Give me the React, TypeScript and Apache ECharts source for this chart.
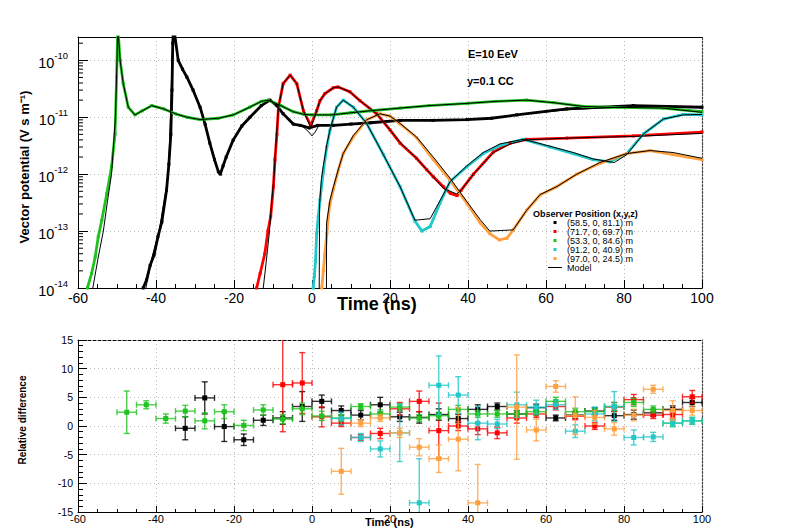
import React, { useEffect, useRef } from 'react';
import * as echarts from 'echarts';

const FONT = '"Liberation Sans", Arial, Helvetica, sans-serif';

const seriesNames = ['(58.5, 0, 81.1) m', '(71.7, 0, 69.7) m', '(53.3, 0, 84.6) m', '(91.2, 0, 40.9) m', '(97.0, 0, 24.5) m'];
const seriesColors = ['#000000', '#ff0000', '#1fc21f', '#22c8c8', '#ffa040'];

// ---- top panel: simulated vector potential [t (ns), value] ----
const blackData = [[-43.3,1e-14],[-42.4,1.4e-14],[-41.5,2.5e-14],[-40.5,3.8e-14],[-39.5,8e-14],[-38.5,1.45e-13],[-37.3,5.2e-13],[-36.7,1.5e-12],[-36.2,5e-12],[-35.9,3e-11],[-35.7,2e-10],[-35.5,4e-10],[-34.3,1e-10],[-33.2,7e-11],[-32.1,5.1e-11],[-30.5,3e-11],[-28.7,1.5e-11],[-27.4,7.5e-12],[-26.2,3.5e-12],[-25,1.8e-12],[-24,1.1e-12],[-23.5,1.0e-12],[-22.8,1.4e-12],[-22,2e-12],[-20.2,4e-12],[-18,7e-12],[-15.9,1.0e-11],[-13,1.6e-11],[-10.8,2.0e-11],[-9,1.6e-11],[-7.4,1.15e-11],[-4.8,7.6e-12],[-3,7.2e-12],[-0.7,6.5e-12],[1.5,7.2e-12],[5.5,7.2e-12],[10,7.6e-12],[15,8.0e-12],[22.6,8.8e-12],[31,8.8e-12],[39.7,9.1e-12],[46,9.6e-12],[52.5,1.1e-11],[65.3,1.4e-11],[82.4,1.6e-11],[100,1.5e-11]];
const redData = [[-14.2,1e-14],[-13.3,1.8e-14],[-12.1,4e-14],[-11.3,1e-13],[-10.6,1.8e-13],[-9.9,6e-13],[-9.5,1.8e-12],[-9.0,5e-12],[-8.6,1.5e-11],[-7.4,3.9e-11],[-5.6,5.5e-11],[-3.9,3.9e-11],[-2.2,1.3e-11],[-0.3,7.2e-12],[1.2,1.3e-11],[2.05,1.95e-11],[3.3,2.6e-11],[5.5,3.3e-11],[6.7,3.4e-11],[9.7,2.8e-11],[12.3,1.95e-11],[16.6,1.15e-11],[20,6e-12],[22.6,3.5e-12],[26.8,1.9e-12],[29.4,1.2e-12],[31.1,9e-13],[33.7,6e-13],[35.5,4.6e-13],[37.2,4.2e-13],[38.2,5.2e-13],[41.4,1.0e-12],[46.5,2.45e-12],[50.8,3.5e-12],[55,4.1e-12],[65.3,4.3e-12],[82.4,4.7e-12],[100,5.5e-12]];
const greenData = [[-57.6,1e-14],[-56.5,1.8e-14],[-55.6,3.5e-14],[-54.8,8e-14],[-53.9,1.55e-13],[-52.6,4.6e-13],[-51.4,1.35e-12],[-50.5,5.1e-12],[-50.1,5e-11],[-49.8,4e-10],[-49.2,1e-10],[-48.4,3.9e-11],[-47.1,1.5e-11],[-45.4,1.1e-11],[-43.5,1.3e-11],[-41.1,1.6e-11],[-38,1.4e-11],[-35,1.15e-11],[-32,1.0e-11],[-28.7,9.1e-12],[-24,9.6e-12],[-20.2,1.1e-11],[-16,1.5e-11],[-13,1.9e-11],[-11.2,2.0e-11],[-8,1.6e-11],[-4.8,1.25e-11],[-2,1.12e-11],[0,1.1e-11],[5,1.1e-11],[10,1.2e-11],[15,1.3e-11],[22.6,1.45e-11],[30,1.6e-11],[39.7,1.75e-11],[47,1.9e-11],[55,2.0e-11],[62,1.8e-11],[69.5,1.55e-11],[76,1.5e-11],[82.3,1.48e-11],[90,1.45e-11],[100,1.25e-11]];
const cyanData = [[0.3,1e-14],[0.6,1.6e-14],[0.9,3e-14],[1.2,9e-14],[1.6,1.8e-13],[2.05,3.5e-13],[2.9,1.1e-12],[3.8,3e-12],[4.6,5.9e-12],[6.3,1.5e-11],[8,2.0e-11],[10.6,1.5e-11],[14,7.8e-12],[18.3,2.2e-12],[22.6,6e-13],[26.4,1.5e-13],[28.2,1.0e-13],[30.3,1.2e-13],[32.8,3.1e-13],[35.4,7.4e-13],[39.7,1.35e-12],[43.9,2.3e-12],[48.2,3.2e-12],[54.2,4.1e-12],[61,3.0e-12],[67,2.3e-12],[72.1,1.8e-12],[76.4,1.65e-12],[80.7,2.3e-12],[85,5.1e-12],[90.1,9.3e-12],[95.2,1.12e-11],[100,1.1e-11]];
const orangeData = [[2.5,1e-14],[2.9,2e-14],[3.3,4e-14],[3.8,9e-14],[4.2,1.8e-13],[4.6,3e-13],[5.5,5.5e-13],[6.8,1.2e-12],[8,2.3e-12],[10.6,4.5e-12],[14,9e-12],[17.4,1.15e-11],[20,1.05e-11],[22.6,7.6e-12],[26.8,4.4e-12],[31.1,1.8e-12],[35.4,7.8e-13],[39.7,3.1e-13],[43.1,1.4e-13],[45.6,9e-14],[48,7e-14],[50,7.5e-14],[51.6,1.05e-13],[55,2.3e-13],[58.5,4.3e-13],[62.7,6.0e-13],[67.9,1.0e-12],[73.8,1.55e-12],[80.7,2.3e-12],[86.7,2.6e-12],[92.6,2.2e-12],[100,1.8e-12]];

// ---- top panel: model curves ----
const blackModel = [[-42.6,1e-14],[-41,3.5e-14],[-39.2,1e-13],[-37.9,3.5e-13],[-36.8,1e-12],[-36.3,1e-11],[-35.9,1e-10],[-35.6,4e-10],[-34.3,1e-10],[-32.1,5.1e-11],[-28.7,1.5e-11],[-26.2,3.5e-12],[-24,1.1e-12],[-23.3,1.1e-12],[-22,2e-12],[-20.2,4e-12],[-18,7e-12],[-15.9,1.05e-11],[-13,1.6e-11],[-10.8,2e-11],[-9,1.6e-11],[-7.4,1.15e-11],[-4.8,7.6e-12],[-2.5,7e-12],[-0.8,5.5e-12],[0,4.7e-12],[0.8,5.5e-12],[1.8,7.2e-12],[5.5,7.2e-12],[10,7.6e-12],[15,8.0e-12],[22.6,8.8e-12],[31,8.8e-12],[39.7,9.1e-12],[46,9.6e-12],[52.5,1.1e-11],[65.3,1.35e-11],[82.4,1.55e-11],[100,1.5e-11]];
const redModel = [[-12.5,1e-14],[-11.6,3.5e-14],[-10.9,1e-13],[-10.3,3.5e-13],[-9.7,1e-12],[-9.1,5e-12],[-8.6,1.5e-11],[-7.4,3.9e-11],[-5.6,5.5e-11],[-3.9,3.9e-11],[-2.2,1.3e-11],[-0.3,6.5e-12],[1.2,1.3e-11],[2.05,1.95e-11],[3.3,2.6e-11],[5.5,3.3e-11],[6.7,3.4e-11],[9.7,2.8e-11],[12.3,1.95e-11],[16.6,1.15e-11],[20,6e-12],[22.6,3.6e-12],[26.8,1.9e-12],[29.4,1.2e-12],[31.1,9e-13],[33.7,5.6e-13],[37.1,4.5e-13],[38.2,5.2e-13],[41.4,1.0e-12],[46.5,2.4e-12],[50.8,3.4e-12],[55,4.0e-12],[65.3,4.3e-12],[82.4,4.6e-12],[100,5.2e-12]];
const greenModel = [[-56.2,1e-14],[-54.8,3.5e-14],[-53.5,1e-13],[-52.4,3.5e-13],[-51.4,1e-12],[-50.4,1e-11],[-50,1e-10],[-49.8,4e-10],[-49.2,1e-10],[-48.4,3.9e-11],[-47.1,1.5e-11],[-45.4,1.1e-11],[-43.5,1.3e-11],[-41.1,1.6e-11],[-38,1.4e-11],[-35,1.15e-11],[-32,1.0e-11],[-28.7,9.1e-12],[-24,9.6e-12],[-20.2,1.1e-11],[-16,1.5e-11],[-13,1.9e-11],[-11.2,2.0e-11],[-8,1.6e-11],[-4.8,1.25e-11],[-2,1.12e-11],[0,1.1e-11],[5,1.1e-11],[10,1.2e-11],[15,1.3e-11],[22.6,1.45e-11],[30,1.6e-11],[39.7,1.75e-11],[47,1.9e-11],[55,2.0e-11],[62,1.8e-11],[69.5,1.55e-11],[76,1.5e-11],[82.3,1.48e-11],[90,1.45e-11],[100,1.22e-11]];
const cyanModel = [[1.85,1e-14],[1.95,3e-13],[2.4,8e-13],[2.9,1.4e-12],[3.8,3.3e-12],[4.6,6e-12],[6.3,1.5e-11],[8,2.0e-11],[10.6,1.5e-11],[14,7.8e-12],[18.3,2.2e-12],[22.6,6e-13],[26.4,1.55e-13],[30.3,1.65e-13],[32.8,3.4e-13],[35.4,7.4e-13],[39.7,1.4e-12],[43.9,2.4e-12],[48.2,3.4e-12],[54.2,4.1e-12],[61,3.1e-12],[67,2.4e-12],[72.1,1.85e-12],[77.5,1.6e-12],[80.7,2.2e-12],[85,5.1e-12],[90.1,9.3e-12],[95.2,1.1e-11],[100,1.12e-11]];
const orangeModel = [[3.7,1e-14],[3.75,1.4e-13],[4.6,3.5e-13],[5.5,6e-13],[6.8,1.25e-12],[8,2.3e-12],[10.6,4.8e-12],[14,9e-12],[17.4,1.15e-11],[20,1.05e-11],[22.6,7.8e-12],[26.8,4.5e-12],[31.1,2.0e-12],[35.4,8.5e-13],[39.7,3.3e-13],[43.1,1.6e-13],[45.6,1.0e-13],[51.6,1.05e-13],[55,2.3e-13],[58.5,4.4e-13],[62.7,6.0e-13],[67.9,1.0e-12],[73.8,1.6e-12],[80.7,2.3e-12],[86.7,2.6e-12],[92.6,2.4e-12],[100,1.9e-12]];

// ---- bottom panel: relative difference [t centre, value, error] ----
const blackDiff = [[-32.5,-0.4,2.0],[-27.5,4.9,2.8],[-22.5,-0.1,2.6],[-17.5,-2.4,1.0],[-12.5,1.0,0.9],[-7.5,1.4,1.1],[-2.5,3.4,2.6],[2.5,4.3,1.1],[7.5,2.7,0.8],[12.5,1.9,0.8],[17.5,3.7,1.3],[22.5,1.6,0.8],[27.5,1.5,1.0],[32.5,2.0,1.0],[37.5,1.3,0.7],[42.5,2.9,0.8],[47.5,3.4,0.6],[52.5,2.1,0.6],[57.5,3.2,0.6],[62.5,1.4,0.5],[67.5,1.9,0.6],[72.5,2.6,0.6],[77.5,1.8,0.8],[82.5,2.0,0.8],[87.5,2.3,0.6],[92.5,2.9,0.6],[97.5,4.1,0.7]];
const redDiff = [[-7.5,7.2,8.2],[-2.5,7.5,5.3],[2.5,1.6,1.75],[7.5,0.5,0.6],[12.5,-2.0,0.5],[17.5,-1.3,0.9],[22.5,3.0,1.1],[27.5,4.3,1.8],[32.5,-0.8,4.8],[37.5,0.0,0.8],[42.5,-0.5,1.0],[47.5,-1.2,1.0],[52.5,1.4,0.9],[57.5,2.1,0.6],[62.5,3.4,0.6],[67.5,1.7,0.6],[72.5,0.0,0.6],[77.5,3.3,0.8],[82.5,4.6,0.9],[87.5,1.9,0.6],[92.5,2.0,0.6],[97.5,5.1,1.1]];
const greenDiff = [[-47.5,2.4,3.7],[-42.5,3.7,0.7],[-37.5,1.3,0.8],[-32.5,2.6,1.0],[-27.5,0.9,1.4],[-22.5,2.5,1.2],[-17.5,0.1,0.9],[-12.5,2.8,0.9],[-7.5,1.2,0.8],[-2.5,3.0,1.0],[2.5,1.75,0.8],[7.5,1.4,0.6],[12.5,3.4,0.5],[17.5,2.1,0.7],[22.5,3.3,0.6],[27.5,1.4,0.6],[32.5,1.8,0.6],[37.5,2.9,0.7],[42.5,2.1,0.6],[47.5,2.1,0.6],[52.5,2.1,0.6],[57.5,2.5,0.6],[62.5,4.3,0.7],[67.5,2.5,0.6],[72.5,2.5,0.6],[77.5,3.4,0.7],[82.5,4.1,0.7],[87.5,2.9,0.6],[92.5,0.5,0.6],[97.5,0.9,0.6]];
const cyanDiff = [[7.5,1.3,1.1],[12.5,-2.0,0.7],[17.5,-4.0,1.4],[22.5,-1.2,5.0],[27.5,-13.4,7.7],[32.5,7.1,5.1],[37.5,5.4,3.2],[42.5,0.5,2.9],[47.5,0.35,0.8],[52.5,3.7,2.2],[57.5,3.3,1.2],[62.5,3.7,0.8],[67.5,-0.9,1.1],[72.5,2.1,1.2],[77.5,3.4,2.6],[82.5,-2.0,1.3],[87.5,-1.9,0.8],[92.5,0.5,0.6],[97.5,0.9,0.6]];
const orangeDiff = [[7.5,-7.9,4.0],[12.5,0.5,0.6],[17.5,1.4,0.6],[22.5,-1.2,0.8],[27.5,-3.7,1.5],[32.5,-5.7,2.4],[37.5,-2.3,5.5],[42.5,-13.4,6.7],[52.5,3.3,9.1],[57.5,-0.7,1.9],[62.5,6.9,1.0],[67.5,1.8,3.3],[72.5,1.5,1.2],[77.5,-0.5,1.1],[82.5,1.9,1.0],[87.5,6.4,0.7],[92.5,2.7,1.7],[97.5,2.7,0.8]];

const timeTicks = { min: -60, max: 100, interval: 20 };
const logDecades = [-14, -13, -12, -11, -10];
const logMinorMultipliers = [2, 3, 4, 5, 6, 7, 8, 9];
const topYMax = 2.57e-10;
const diffRange = { min: -15, max: 15, interval: 5 };
const binHalfWidth = 2.5;

const topData = [blackData, redData, greenData, cyanData, orangeData];
const topModels = [blackModel, redModel, greenModel, cyanModel, orangeModel];
const diffData = [blackDiff, redDiff, greenDiff, cyanDiff, orangeDiff];

const gridColor = '#b8b8b8';

function errRender(color: string) {
  return (params: any, api: any) => {
    const t = api.value(0), v = api.value(1), e = api.value(2);
    const cs = params.coordSys;
    const top = cs.y, bot = cs.y + cs.height;
    const c = api.coord([t, v]);
    const cx = c[0], cy = c[1];
    const xl = api.coord([t - binHalfWidth, v])[0];
    const xr = api.coord([t + binHalfWidth, v])[0];
    const yh = api.coord([t, v + e])[1];
    const yl = api.coord([t, v - e])[1];
    const st = { stroke: color, lineWidth: 1.4, opacity: 0.8 };
    const ch: any[] = [];
    if (cy >= top && cy <= bot) {
      ch.push({ type: 'line', shape: { x1: xl, y1: cy, x2: xr, y2: cy }, style: st });
      ch.push({ type: 'line', shape: { x1: xl, y1: cy - 3, x2: xl, y2: cy + 3 }, style: st });
      ch.push({ type: 'line', shape: { x1: xr, y1: cy - 3, x2: xr, y2: cy + 3 }, style: st });
    }
    ch.push({ type: 'line', shape: { x1: cx, y1: Math.max(top, yh), x2: cx, y2: Math.min(bot, yl) }, style: st });
    if (yh >= top) ch.push({ type: 'line', shape: { x1: cx - 3, y1: yh, x2: cx + 3, y2: yh }, style: st });
    if (yl <= bot) ch.push({ type: 'line', shape: { x1: cx - 3, y1: yl, x2: cx + 3, y2: yl }, style: st });
    if (cy >= top - 2 && cy <= bot + 2) {
      ch.push({ type: 'rect', shape: { x: cx - 2.5, y: cy - 2.5, width: 5, height: 5 }, style: { fill: color } });
    }
    return { type: 'group', children: ch };
  };
}

export default function App() {
  const ref = useRef<HTMLDivElement>(null);
  useEffect(() => {
    document.body.style.margin = '0';
    const chart = echarts.init(ref.current!, undefined, { renderer: 'svg' });

    const minorVals: number[][] = [];
    logDecades.forEach((d) => logMinorMultipliers.forEach((m) => {
      const v = m * Math.pow(10, d);
      if (v <= topYMax) minorVals.push([timeTicks.min, v]);
    }));

    const series: any[] = [];
    topData.forEach((d, i) => {
      series.push({
        name: seriesNames[i], type: 'line', xAxisIndex: 0, yAxisIndex: 0, data: d,
        symbol: 'rect', symbolSize: 3, showSymbol: true, showAllSymbol: true,
        lineStyle: { color: seriesColors[i], width: 2.8 }, itemStyle: { color: seriesColors[i] },
        z: 2, clip: true, silent: true,
      });
    });
    topModels.forEach((d) => {
      series.push({
        name: 'Model', type: 'line', xAxisIndex: 0, yAxisIndex: 0, data: d,
        symbol: 'none', lineStyle: { color: '#000', width: 1 }, itemStyle: { color: '#000' },
        z: 3, clip: true, silent: true,
      });
    });
    series.push({
      type: 'custom', xAxisIndex: 0, yAxisIndex: 0, data: minorVals, silent: true, z: 4,
      renderItem: (params: any, api: any) => {
        const p = api.coord([api.value(0), api.value(1)]);
        return { type: 'line', shape: { x1: p[0], y1: p[1], x2: p[0] + 5, y2: p[1] }, style: { stroke: '#000', lineWidth: 1 } };
      },
    });
    diffData.forEach((d, i) => {
      series.push({
        name: seriesNames[i], type: 'custom', xAxisIndex: 1, yAxisIndex: 1, data: d,
        renderItem: errRender(seriesColors[i]), itemStyle: { color: seriesColors[i] }, silent: true, z: 2 + i,
      });
    });

    const labelStyle = { color: '#000', fontFamily: FONT };

    const option: any = {
      animation: false,
      backgroundColor: '#fff',
      textStyle: { fontFamily: FONT },
      grid: [
        { left: 78, top: 37, width: 624, height: 251, outerBoundsMode: 'none' },
        { left: 78, top: 340, width: 624, height: 172, outerBoundsMode: 'none' },
      ],
      xAxis: [
        {
          type: 'value', gridIndex: 0, ...timeTicks,
          axisLine: { show: true, onZero: false, lineStyle: { color: '#000', width: 1 } },
          axisTick: { show: true, inside: true, length: 8, lineStyle: { color: '#000' } },
          minorTick: { show: true, splitNumber: 4, length: 4, lineStyle: { color: '#000' } },
          axisLabel: { ...labelStyle, fontSize: 14, margin: 3 },
          splitLine: { show: true, lineStyle: { color: gridColor, type: [1, 3] } },
        },
        {
          type: 'value', gridIndex: 1, ...timeTicks,
          axisLine: { show: true, onZero: false, lineStyle: { color: '#000', width: 1 } },
          axisTick: { show: true, inside: true, length: 6, lineStyle: { color: '#000' } },
          minorTick: { show: true, splitNumber: 4, length: 3, lineStyle: { color: '#000' } },
          axisLabel: { ...labelStyle, fontSize: 11, margin: 1 },
          splitLine: { show: true, lineStyle: { color: gridColor, type: [1, 3] } },
        },
        {
          type: 'value', gridIndex: 0, position: 'top', ...timeTicks,
          axisLine: { show: true, onZero: false, lineStyle: { color: '#000', width: 1 } },
          axisTick: { show: false }, axisLabel: { show: false }, splitLine: { show: false },
        },
        {
          type: 'value', gridIndex: 1, position: 'top', ...timeTicks,
          axisLine: { show: true, onZero: false, lineStyle: { color: '#000', width: 1, type: [3, 2] } },
          axisTick: { show: false }, axisLabel: { show: false }, splitLine: { show: false },
        },
      ],
      yAxis: [
        {
          type: 'log', logBase: 10, gridIndex: 0, min: 1e-14, max: topYMax,
          axisLine: { show: true, onZero: false, lineStyle: { color: '#000', width: 1 } },
          axisTick: { show: true, inside: true, length: 10, lineStyle: { color: '#000' } },
          axisLabel: {
            ...labelStyle, margin: 10, showMaxLabel: false,
            formatter: (v: number) => `{b|10}{s|${Math.round(Math.log10(v))}}`,
            rich: {
              b: { fontSize: 14.5, fontFamily: FONT, color: '#000', lineHeight: 20, verticalAlign: 'bottom' },
              s: { fontSize: 9.5, fontFamily: FONT, color: '#000', lineHeight: 10, verticalAlign: 'top' },
            },
          },
          splitLine: { show: true, lineStyle: { color: gridColor, type: [1, 3] } },
        },
        {
          type: 'value', gridIndex: 1, ...diffRange,
          axisLine: { show: true, onZero: false, lineStyle: { color: '#000', width: 1 } },
          axisTick: { show: true, inside: true, length: 9, lineStyle: { color: '#000' } },
          minorTick: { show: true, splitNumber: 5, length: 5, lineStyle: { color: '#000' } },
          axisLabel: { ...labelStyle, fontSize: 10.5, margin: 5 },
          splitLine: { show: true, lineStyle: { color: gridColor, type: [1, 3] } },
        },
        {
          type: 'value', gridIndex: 0, position: 'right', min: 0, max: 1,
          axisLine: { show: true, onZero: false, lineStyle: { color: '#444', width: 1.2, type: [2, 1.5] } },
          axisTick: { show: false }, axisLabel: { show: false }, splitLine: { show: false },
        },
        {
          type: 'value', gridIndex: 1, position: 'right', min: 0, max: 1,
          axisLine: { show: true, onZero: false, lineStyle: { color: '#444', width: 1.2, type: [2, 1.5] } },
          axisTick: { show: false }, axisLabel: { show: false }, splitLine: { show: false },
        },
      ],
      legend: {
        orient: 'vertical', left: 548, top: 218, padding: 0, itemGap: 0,
        itemWidth: 14, itemHeight: 3, selectedMode: false, symbolKeepAspect: true,
        textStyle: { fontFamily: FONT, fontSize: 9, lineHeight: 9, color: '#000' },
        data: [
          ...seriesNames.map((n) => ({ name: n, icon: 'path://M0,0L1,0L1,1L0,1Z' })),
          { name: 'Model', icon: 'path://M0,0L14,0L14,1L0,1Z' },
        ],
      },
      graphic: [
        { type: 'text', x: 533, y: 213.5, style: { text: 'Observer Position (x,y,z)', fontFamily: FONT, fontSize: 9, fontWeight: 'bold', fill: '#000', textAlign: 'left', textVerticalAlign: 'middle' } },
        { type: 'text', x: 468, y: 54, style: { text: 'E=10 EeV', fontFamily: FONT, fontSize: 11, fontWeight: 'bold', fill: '#000', textAlign: 'left', textVerticalAlign: 'middle' } },
        { type: 'text', x: 467, y: 81, style: { text: 'y=0.1 CC', fontFamily: FONT, fontSize: 11, fontWeight: 'bold', fill: '#000', textAlign: 'left', textVerticalAlign: 'middle' } },
        { type: 'text', x: 337, y: 304, style: { text: 'Time (ns)', fontFamily: FONT, fontSize: 18, fontWeight: 'bold', fill: '#000', textAlign: 'left', textVerticalAlign: 'middle' } },
        { type: 'text', x: 24, y: 167, rotation: Math.PI / 2, style: { text: 'Vector potential (V s m⁻¹)', fontFamily: FONT, fontSize: 13, fontWeight: 'bold', fill: '#000', textAlign: 'center', textVerticalAlign: 'middle' } },
        { type: 'text', x: 365, y: 522, style: { text: 'Time (ns)', fontFamily: FONT, fontSize: 11, fontWeight: 'bold', fill: '#000', textAlign: 'left', textVerticalAlign: 'middle' } },
        { type: 'text', x: 22.5, y: 420, rotation: Math.PI / 2, style: { text: 'Relative difference', fontFamily: FONT, fontSize: 10, fontWeight: 'bold', fill: '#000', textAlign: 'center', textVerticalAlign: 'middle' } },
      ],
      series,
    };
    chart.setOption(option);
    return () => chart.dispose();
  }, []);
  return <div ref={ref} style={{ width: 788, height: 532 }} />;
}
